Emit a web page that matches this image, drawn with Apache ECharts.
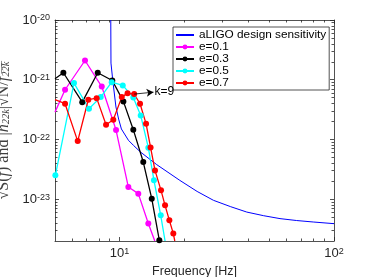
<!DOCTYPE html>
<html><head><meta charset="utf-8">
<script src="https://cdn.jsdelivr.net/npm/echarts@6/dist/echarts.min.js"></script>
<style>html,body{margin:0;padding:0;background:#fff}#c{width:369px;height:277px}</style>
</head><body><div id="c"></div>
<script>
// ---- data ----
// points lying on the plot frame (f = 5 Hz or h = 2e-24) are where a curve leaves the box
const seriesNames = ['aLIGO design sensitivity', 'e=0.1', 'e=0.3', 'e=0.5', 'e=0.7'];
const seriesColors = ['#0000ff', '#ff00ff', '#000000', '#00ffff', '#ff0000'];

const freqLIGO = [9.10, 9.12, 9.30, 9.62, 9.9, 10.2, 11.0, 11.6, 12.5, 14.9, 19.1, 23, 27.4, 33, 39.2, 47, 56, 67, 80, 100];
const hLIGO    = [1e-20, 1.9e-21, 9.7e-22, 3.5e-22, 2.2e-22, 1.5e-22, 9.7e-23, 8.0e-23, 6.2e-23, 3.8e-23, 2.07e-23, 1.35e-23, 9.6e-24, 7.5e-24, 6.1e-24, 5.3e-24, 4.74e-24, 4.4e-24, 4.16e-24, 3.9e-24];

const freqE01 = [5, 5.57, 6.90, 8.26, 9.63, 10.99, 12.23, 13.62, 14.6];
const hE01    = [2.87e-22, 6.8e-22, 2.1e-21, 7.7e-22, 1.44e-22, 1.6e-23, 1.24e-23, 3.93e-24, 2e-24];

const freqE03 = [5, 5.47, 6.70, 7.91, 9.25, 10.42, 11.59, 12.90, 14.13, 15.33];
const hE03    = [1.04e-21, 1.31e-21, 4.22e-22, 1.31e-21, 9.7e-22, 4.34e-22, 1.46e-22, 4.19e-23, 1.02e-23, 2.05e-24];

const freqE05 = [5.02, 6.13, 7.20, 8.17, 9.19, 10.35, 11.59, 12.55, 13.62, 14.47, 15.56, 16.3];
const hE05    = [2.51e-23, 8.78e-22, 3.27e-22, 5.12e-22, 9.12e-22, 8.03e-22, 5.06e-22, 2.53e-22, 7.3e-23, 2.07e-23, 5.38e-24, 2e-24];

const freqE07 = [5, 5.57, 6.38, 7.15, 7.82, 8.65, 9.35, 10.24, 10.9, 11.7, 12.46, 13.29, 13.95, 14.63, 15.61, 16.30, 17.07, 17.81, 18.1];
const hE07    = [4.63e-22, 3.97e-22, 9.4e-23, 4.63e-22, 4.92e-22, 1.77e-22, 2.14e-22, 5.12e-22, 5.97e-22, 5.75e-22, 3.97e-22, 1.84e-22, 7.38e-23, 3.04e-23, 1.41e-23, 7.9e-24, 4.44e-24, 2.66e-24, 2e-24];

const xMin = 5, xMax = 100, yMin = 2e-24, yMax = 1e-20;
const xMajorTicks = [10, 100];
const xMinorTicks = [6, 7, 8, 9, 20, 30, 40, 50, 60, 70, 80, 90];
const yMajorTicks = [1e-23, 1e-22, 1e-21, 1e-20];
const yMinorTicks = [3e-24, 4e-24, 5e-24, 6e-24, 7e-24, 8e-24, 9e-24,
  2e-23, 3e-23, 4e-23, 5e-23, 6e-23, 7e-23, 8e-23, 9e-23,
  2e-22, 3e-22, 4e-22, 5e-22, 6e-22, 7e-22, 8e-22, 9e-22,
  2e-21, 3e-21, 4e-21, 5e-21, 6e-21, 7e-21, 8e-21, 9e-21];

const arrowStart = [11.7, 5.75e-22];
const arrowEnd = [14.4, 6.2e-22];
const arrowText = 'k=9';

// ---- chart (log-log drawn on value axes carrying log10 of the data) ----
const L = Math.log10;
const zipLog = (a, b) => a.map((v, i) => [L(v), L(b[i])]);
const axisColor = '#262626';
const sansFont = 'Liberation Sans, Arial, sans-serif';
const powLabel = v => '{b|10}{s|' + Math.round(v) + '}';
const powRich = {
  b: { fontSize: 13, fontFamily: sansFont, color: axisColor },
  s: { fontSize: 9, fontFamily: sansFont, color: axisColor, verticalAlign: 'top' }
};
const ol = s => s.split('').map(c => c + '\u0305').join('');

function axisDef(pos, lo, hi, majors, minors, major, withLabels, show, margin) {
  return {
    type: 'value', min: L(lo), max: L(hi), position: pos, scale: true,
    axisLine: { show: show, lineStyle: { color: axisColor, width: 0.8 } },
    axisTick: { show: true, inside: true, length: major ? 4 : 2.5, customValues: (major ? majors : minors).map(L),
      lineStyle: { color: axisColor, width: 0.8 } },
    axisLabel: withLabels ? { show: true, customValues: majors.map(L), formatter: powLabel, rich: powRich, margin: margin } : { show: false },
    splitLine: { show: false }
  };
}

const xAxes = [
  axisDef('bottom', xMin, xMax, xMajorTicks, xMinorTicks, true, true, true, 6),
  axisDef('bottom', xMin, xMax, xMajorTicks, xMinorTicks, false, false, false, 6),
  axisDef('top', xMin, xMax, xMajorTicks, xMinorTicks, true, false, true, 6),
  axisDef('top', xMin, xMax, xMajorTicks, xMinorTicks, false, false, false, 6)];
xAxes[0].name = 'Frequency [Hz]';
xAxes[0].nameLocation = 'middle';
xAxes[0].nameGap = 19;
xAxes[0].nameTextStyle = { fontSize: 12.5, fontFamily: sansFont, color: axisColor };

const yAxes = [
  axisDef('left', yMin, yMax, yMajorTicks, yMinorTicks, true, true, true, 5),
  axisDef('left', yMin, yMax, yMajorTicks, yMinorTicks, false, false, false, 5),
  axisDef('right', yMin, yMax, yMajorTicks, yMinorTicks, true, false, true, 5),
  axisDef('right', yMin, yMax, yMajorTicks, yMinorTicks, false, false, false, 5)];
yAxes[0].name = '{r|√}{r|' + ol('S(') + '}{i|' + ol('f') + '}{r|' + ol(')') + ' and |}{i|h}{s|22k}{r||√' + ol('N/') + '}{i|' + ol('f') + '}{s|' + ol('22k') + '}';
yAxes[0].nameLocation = 'middle';
yAxes[0].nameGap = 22;
yAxes[0].nameTextStyle = {
  color: '#404040', fontFamily: 'Liberation Serif, serif', fontSize: 16,
  rich: {
    r: { fontFamily: 'Liberation Serif, serif', fontSize: 16, color: '#404040' },
    i: { fontFamily: 'Liberation Serif, serif', fontSize: 16, fontStyle: 'italic', color: '#404040' },
    s: { fontFamily: 'Liberation Serif, serif', fontSize: 10.5, fontStyle: 'italic', color: '#404040', verticalAlign: 'bottom' }
  }
};

const onFrame = v => v[0] <= L(xMin) + 1e-9 || v[1] <= L(yMin) + 1e-9;
const seriesData = [zipLog(freqLIGO, hLIGO), zipLog(freqE01, hE01), zipLog(freqE03, hE03), zipLog(freqE05, hE05), zipLog(freqE07, hE07)];
const series = seriesNames.map((n, i) => ({
  name: n, type: 'line', data: seriesData[i], xAxisIndex: 0, yAxisIndex: 0,
  showSymbol: i > 0, symbol: i > 0 ? (v => onFrame(v) ? 'none' : 'circle') : 'none', symbolSize: 6, clip: true,
  lineStyle: { color: seriesColors[i], width: i === 0 ? 1 : 1.3 },
  itemStyle: { color: seriesColors[i] },
  emphasis: { disabled: true }, animation: false, z: i === 0 ? 2 : 3
}));
series[4].markLine = {
  silent: true, animation: false, symbol: ['none', 'arrow'], symbolSize: [6, 7],
  lineStyle: { color: '#000', width: 0.8, type: 'solid' },
  label: { show: true, position: 'end', formatter: arrowText, distance: 1, color: '#000', fontSize: 12, fontFamily: sansFont },
  data: [[{ coord: arrowStart.map(L) }, { coord: arrowEnd.map(L) }]]
};

const legendData = seriesNames.map((n, i) => i === 0 ? { name: n, itemStyle: { opacity: 0 } } : { name: n });

const chart = echarts.init(document.getElementById('c'), null, { renderer: 'canvas' });
chart.setOption({
  animation: false,
  backgroundColor: '#fff',
  grid: { left: 55, right: 35, top: 20, bottom: 36, containLabel: false, outerBoundsMode: 'none' },
  legend: {
    orient: 'vertical', left: 173, top: 27, data: legendData,
    padding: [2, 3, 1, 2], itemGap: 0, itemWidth: 18, itemHeight: 6,
    borderColor: axisColor, borderWidth: 0.8, backgroundColor: '#fff',
    textStyle: { fontSize: 11.8, fontFamily: sansFont, color: '#000', lineHeight: 11.4 },
    selectedMode: false
  },
  xAxis: xAxes,
  yAxis: yAxes,
  series: series
});
</script>
</body></html>
